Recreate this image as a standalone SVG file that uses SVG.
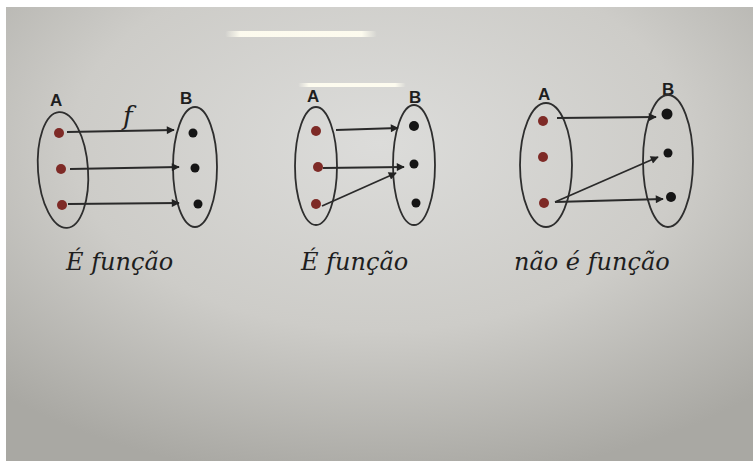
<svg xmlns="http://www.w3.org/2000/svg" width="753" height="461" viewBox="0 0 753 461">
<defs>
<radialGradient id="bg" cx="0.5" cy="0.3" r="0.75">
<stop offset="0" stop-color="#dcdcda"/>
<stop offset="0.55" stop-color="#cdccc8"/>
<stop offset="1" stop-color="#a9a8a3"/>
</radialGradient>
<linearGradient id="glare" x1="0" x2="1">
<stop offset="0" stop-color="#fffdf0" stop-opacity="0"/>
<stop offset="0.1" stop-color="#fffdf0" stop-opacity="0.95"/>
<stop offset="0.9" stop-color="#fffdf0" stop-opacity="0.95"/>
<stop offset="1" stop-color="#fffdf0" stop-opacity="0"/>
</linearGradient>
<marker id="ah" viewBox="0 0 10 10" refX="9" refY="5" markerWidth="9" markerHeight="8" orient="auto" markerUnits="userSpaceOnUse">
<path d="M0,0 L10,5 L0,10 z" fill="#222"/>
</marker>
</defs>
<style>
.set{fill:none;stroke:#2e2e2e;stroke-width:1.8}
.red{fill:#7e2a26}
.blk{fill:#151515}
.arr{stroke:#2a2a2a;stroke-width:1.8;fill:none;marker-end:url(#ah)}
.lbl{font-family:"Liberation Sans",Arial,sans-serif;font-size:17px;font-weight:bold;fill:#1e1e1e}
.cap{font-family:"DejaVu Serif","Liberation Serif",serif;font-style:italic;font-size:24px;fill:#1e1e1e}
</style>
<rect width="753" height="461" fill="#ffffff"/>
<rect x="6" y="7" width="747" height="454" fill="url(#bg)"/>
<rect x="225" y="31" width="152" height="6" rx="3" fill="url(#glare)"/>
<rect x="298" y="83" width="108" height="4" rx="2" fill="url(#glare)"/>

<g id="d1">
<g id="d1-A"><text class="lbl" x="50" y="106">A</text><ellipse class="set" cx="63" cy="170" rx="25" ry="58" transform="rotate(-4 63 170)"/>
<circle class="red" cx="59" cy="133" r="5"/><circle class="red" cx="61" cy="169" r="5"/><circle class="red" cx="62" cy="205" r="5"/></g>
<g id="d1-B"><text class="lbl" x="180" y="104">B</text><ellipse class="set" cx="195" cy="167" rx="22" ry="60"/>
<circle class="blk" cx="193" cy="133" r="4.5"/><circle class="blk" cx="195" cy="168" r="4.5"/><circle class="blk" cx="198" cy="204" r="4.5"/></g>
<text class="cap" x="123" y="125" style="font-size:26px">f</text>
<text class="cap" x="66" y="270">É função</text>
</g>

<g id="d2">
<g id="d2-A"><text class="lbl" x="307" y="102">A</text><ellipse class="set" cx="316" cy="166" rx="21" ry="59"/>
<circle class="red" cx="316" cy="131" r="5"/><circle class="red" cx="318" cy="167" r="5"/><circle class="red" cx="316" cy="204" r="5"/></g>
<g id="d2-B"><text class="lbl" x="409" y="103">B</text><ellipse class="set" cx="414" cy="165" rx="21" ry="60"/>
<circle class="blk" cx="414" cy="126" r="5"/><circle class="blk" cx="414" cy="164" r="4.5"/><circle class="blk" cx="416" cy="203" r="4.5"/></g>
<text class="cap" x="301" y="270">É função</text>
</g>

<g id="d3">
<g id="d3-A"><text class="lbl" x="538" y="100">A</text><ellipse class="set" cx="546" cy="165" rx="26" ry="62"/>
<circle class="red" cx="543" cy="121" r="5"/><circle class="red" cx="543" cy="157" r="5"/><circle class="red" cx="544" cy="203" r="5"/></g>
<g id="d3-B"><text class="lbl" x="662" y="95">B</text><ellipse class="set" cx="668" cy="161" rx="25" ry="66"/>
<circle class="blk" cx="667" cy="114" r="5.5"/><circle class="blk" cx="668" cy="153" r="4.5"/><circle class="blk" cx="671" cy="197" r="5"/></g>
<text class="cap" x="514" y="270">não é função</text>
</g>

<g id="connectors">
<line class="arr" x1="67" y1="132" x2="174" y2="130"/>
<line class="arr" x1="70" y1="169" x2="179" y2="167"/>
<line class="arr" x1="68" y1="204" x2="179" y2="203"/>
<line class="arr" x1="336" y1="130" x2="398" y2="128"/>
<line class="arr" x1="323" y1="168" x2="404" y2="167"/>
<line class="arr" x1="322" y1="206" x2="396" y2="173"/>
<line class="arr" x1="557" y1="118" x2="656" y2="117"/>
<line class="arr" x1="555" y1="202" x2="658" y2="157"/>
<line class="arr" x1="555" y1="202" x2="663" y2="199"/>
</g>
</svg>
